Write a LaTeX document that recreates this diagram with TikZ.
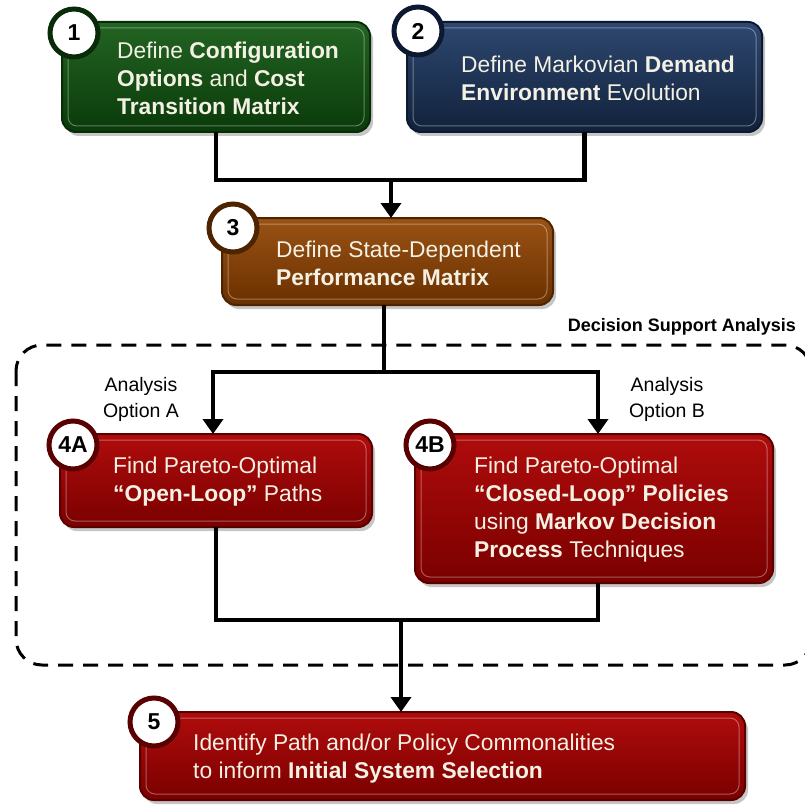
\documentclass[tikz,border=0pt]{standalone}
\usepackage{fontspec}
\setmainfont{Liberation Sans}
\usetikzlibrary{arrows.meta,shadows,calc}

\definecolor{grnA}{HTML}{236423}\definecolor{grnB}{HTML}{0A3A0A}\definecolor{grnR}{HTML}{082C08}
\definecolor{navA}{HTML}{2E4870}\definecolor{navB}{HTML}{11213B}\definecolor{navR}{HTML}{0D1930}
\definecolor{brnA}{HTML}{9A5214}\definecolor{brnB}{HTML}{6A3000}\definecolor{brnR}{HTML}{4E2300}
\definecolor{redA}{HTML}{B00C0C}\definecolor{redB}{HTML}{7A0000}\definecolor{redR}{HTML}{5A0000}
\definecolor{txtW}{HTML}{F4F1E4}

\tikzset{
  panel/.style n args={3}{draw=#3, line width=2pt, rounded corners=14pt,
    top color=#1, bottom color=#2,
    drop shadow={opacity=0.45, shadow xshift=3pt, shadow yshift=-4pt}},
  rim/.style={draw=white, draw opacity=0.35, line width=1pt, rounded corners=9pt},
  badge/.style={circle, fill=white, draw=#1, line width=5pt, minimum size=48pt,
    inner sep=0pt, font=\fontsize{23}{23}\selectfont\bfseries, text=black,
    drop shadow={opacity=0.4, shadow xshift=2pt, shadow yshift=-2pt}},
  boxtext/.style={anchor=west, align=left, text=txtW, inner sep=0pt,
    font=\fontsize{22.8}{28}\selectfont},
  plaintext/.style={align=center, text=black, inner sep=0pt,
    font=\fontsize{19.5}{26}\selectfont},
  wire/.style={line width=4.5pt, black},
  feed/.style={wire, -{Triangle[width=20pt,length=15pt]}},
}

\newcommand{\panelbox}[7]{% name, x1, y1, x2, y2, colour family
  \path[panel={#6A}{#6B}{#6R}] (#2,#3) rectangle (#4,#5);
  \coordinate (#1) at ($(#2,#3)!0.5!(#4,#5)$);
  \coordinate (#1-n) at ($(#2,#3)!0.5!(#4,#3)$);
  \coordinate (#1-s) at ($(#2,#5)!0.5!(#4,#5)$);
  \draw[rim] ($(#2,#3)+(6,6)$) rectangle ($(#4,#5)+(-6,-6)$);
  #7}

\begin{document}
\begin{tikzpicture}[x=1pt, y=-1pt]
\useasboundingbox (0,0) rectangle (804,805);

% analysis region
\draw[line width=3pt, dash pattern=on 15pt off 10pt, rounded corners=26pt]
  (16,345) rectangle (811,665);
\node[anchor=east, inner sep=0pt, font=\fontsize{18}{18}\selectfont\bfseries] (dsa)
  at (796,327) {Decision Support Analysis};

% boxes
\panelbox{b1}{62}{22}{370}{132}{grn}{}
\panelbox{b2}{407}{22}{762}{132}{nav}{}
\panelbox{b3}{222}{218}{553}{305}{brn}{}
\panelbox{b4a}{60}{434}{372}{527}{red}{}
\panelbox{b4b}{415}{434}{773}{583}{red}{}
\panelbox{b5}{140}{712}{745}{800}{red}{}

% badges
\node[badge=grnR] (n1) at (74,33) {1};
\node[badge=navR] (n2) at (418,31) {2};
\node[badge=brnR] (n3) at (233,228) {3};
\node[badge=redR] (n4a) at (73,445) {4A};
\node[badge=redR] (n4b) at (430,445) {4B};
\node[badge=redR] (n5) at (154,722) {5};

% texts
\node[boxtext] (t1) at (117,78) {Define \textbf{Configuration}\\\textbf{Options} and \textbf{Cost}\\\textbf{Transition Matrix}};
\node[boxtext] (t2) at (461,78) {Define Markovian \textbf{Demand}\\\textbf{Environment} Evolution};
\node[boxtext] (t3) at (276,263) {Define State-Dependent\\\textbf{Performance Matrix}};
\node[boxtext] (t4a) at (113,482) {Find Pareto-Optimal\\\textbf{“Open-Loop”} Paths};
\node[boxtext] (t4b) at (474,510) {Find Pareto-Optimal\\\textbf{“Closed-Loop” Policies}\\using \textbf{Markov Decision}\\\textbf{Process} Techniques};
\node[boxtext] (t5) at (193,759) {Identify Path and/or Policy Commonalities\\to inform \textbf{Initial System Selection}};

\node[plaintext] (oa) at (141,399) {Analysis\\Option A};
\node[plaintext] (ob) at (667,399) {Analysis\\Option B};

% connectors
\coordinate (j1) at (391,180);
\coordinate (j2) at (384,372);
\coordinate (j3) at (401,620);
\draw[wire] (b1-s) |- (j1) -| (b2-s);
\draw[feed] (j1) -- (j1 |- b3-n);
\draw[wire] (j2 |- b3-s) -- (j2);
\draw[feed] (j2) -| ($(b4a-n)+(-3,0)$);
\draw[feed] (j2) -| ($(b4b-n)+(4,0)$);
\draw[wire] (b4a-s) |- (j3) -| ($(b4b-s)+(4,0)$);
\draw[feed] (j3) -- (j3 |- b5-n);
\end{tikzpicture}
\end{document}
